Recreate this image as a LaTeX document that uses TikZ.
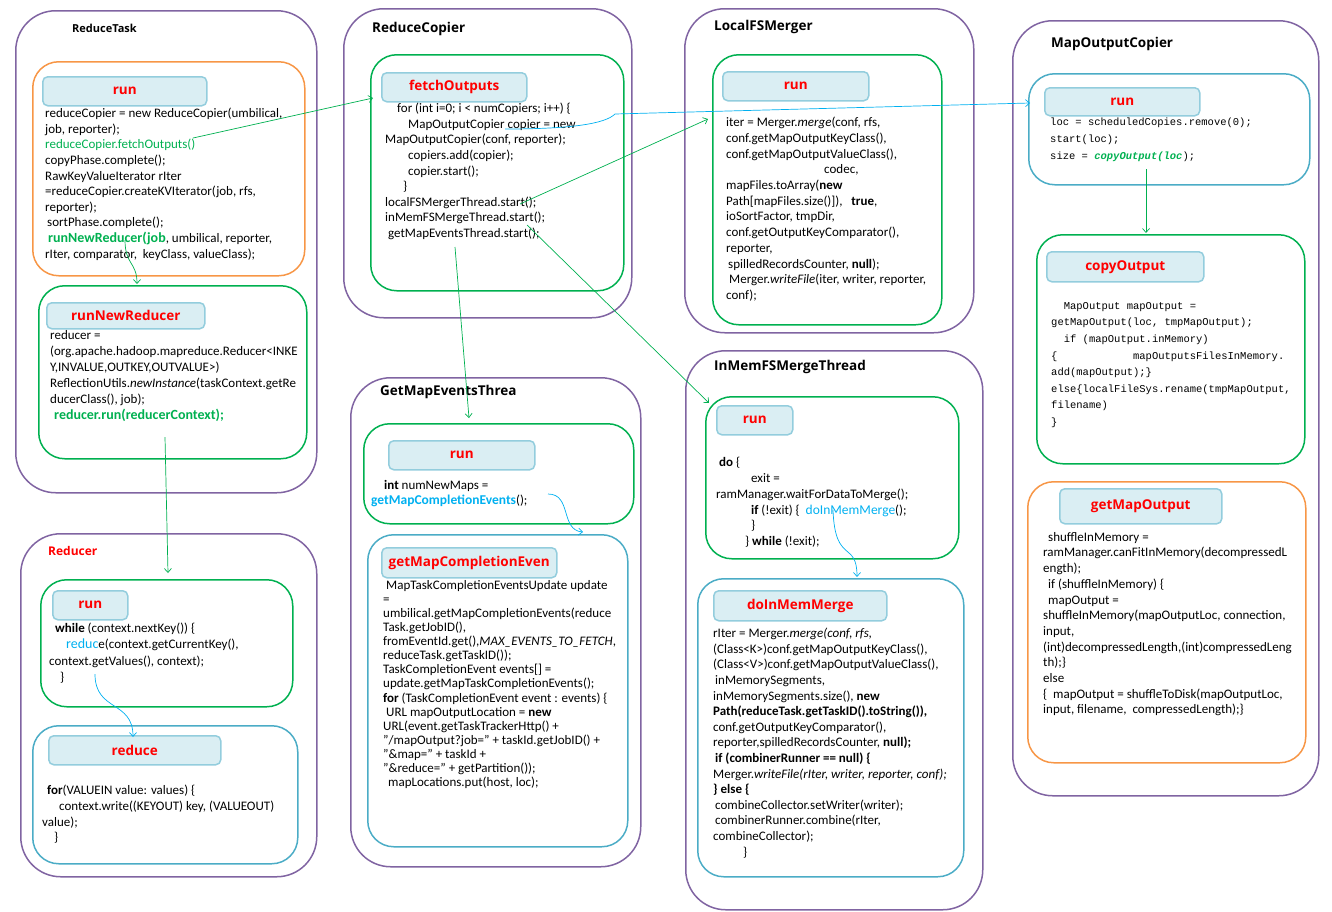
\documentclass[tikz,border=0pt]{standalone}
\usepackage{fontspec}
\setmainfont{Carlito}
\setmonofont{Liberation Mono}
\newfontfamily\headfamily{Open Sans}
\usetikzlibrary{arrows.meta,calc}
\definecolor{purp}{HTML}{8064A2}
\definecolor{orng}{HTML}{F79646}
\definecolor{grn}{HTML}{00B050}
\definecolor{cyanbox}{HTML}{4BACC6}
\definecolor{headfill}{HTML}{DAEEF3}
\definecolor{headline}{HTML}{93CDDD}
\definecolor{skyblue}{HTML}{00B0F0}
\begin{document}
\begin{tikzpicture}[x=1pt, y=-1pt,
	classbox/.style={draw=purp, line width=1.5pt, rounded corners=40pt, anchor=north west, inner sep=0pt},
	methodbox/.style={line width=1.5pt, rounded corners=26pt, anchor=north west, inner sep=0pt},
	headbox/.style={fill=headfill, draw=headline, line width=1.5pt, rounded corners=5pt, anchor=north west, text=red, font=\headfamily\bfseries\fontsize{13.5}{16}\selectfont},
	classname/.style={anchor=west, inner sep=0pt, font=\headfamily\bfseries\fontsize{13.5}{16}\selectfont},
	code/.style={anchor=north west, align=left, inner sep=0pt, font=\fontsize{13}{15.6}\selectfont, execute at begin node=\rule{0pt}{10pt}},
	mono/.style={code, font=\ttfamily\fontsize{10.5}{16.8}\selectfont},
	call/.style={grn, line width=0.7pt, -{Straight Barb[length=4pt,width=7pt]}},
	jump/.style={call, skyblue}]
	\useasboundingbox (0,0) rectangle (1332,911);
	% ReduceTask
	\node[classbox, minimum width=301pt, minimum height=482pt] (tasko) at (15,10) {};
	\node[classname, font=\headfamily\bfseries\fontsize{11}{13}\selectfont] (taskname) at (72,28) {ReduceTask};
	\node[methodbox, draw=orng, minimum width=272pt, minimum height=214pt] (taskrun) at (32,61) {};
	\node[headbox, minimum width=164pt, minimum height=29pt] (taskrunh) at (42,76) {run};
	\node[code] (taskruntxt) at (45,108) {reduceCopier = new ReduceCopier(umbilical,\\ job, reporter);\\ \textcolor{grn}{reduceCopier.fetchOutputs()}\\ copyPhase.complete();\\ RawKeyValueIterator rIter\\ =reduceCopier.createKVIterator(job, rfs,\\ reporter);\\ \hspace*{2pt}sortPhase.complete();\\ \hspace*{3pt}\textcolor{grn}{\bfseries\fontsize{14}{15.6}\selectfont runNewReducer(job}, umbilical, reporter,\\ rIter, comparator,\ \ keyClass, valueClass);};
	\node[methodbox, draw=grn, minimum width=268pt, minimum height=173pt] (newred) at (38,285) {};
	\node[headbox, minimum width=158pt, minimum height=26pt] (newredh) at (46,302) {runNewReducer};
	\node[code, font=\fontsize{13}{16}\selectfont] (newredtxt) at (50,330) {reducer =\\ (org.apache.hadoop.mapreduce.Reducer<INKE\\ Y,INVALUE,OUTKEY,OUTVALUE>)\\ ReflectionUtils.\textit{newInstance}(taskContext.getRe\\ ducerClass(), job);\\ \hspace*{4pt}\textcolor{grn}{\bfseries\fontsize{14}{16}\selectfont reducer.run(reducerContext);}};
	% Reducer
	\node[classbox, minimum width=296pt, minimum height=343pt] (redo) at (20,533) {};
	\node[classname, text=red, font=\headfamily\bfseries\fontsize{12}{14}\selectfont] (redname) at (48,551) {Reducer};
	\node[methodbox, draw=grn, minimum width=252pt, minimum height=127pt] (redrun) at (40,579) {};
	\node[headbox, minimum width=75pt, minimum height=29pt] (redrunh) at (52,590) {run};
	\node[code, font=\fontsize{13}{16.2}\selectfont] (redruntxt) at (49,623) {\hspace*{6pt}\textbf{while} (context.nextKey()) \{\\ \hspace*{17pt}\textcolor{skyblue}{\fontsize{14}{16}\selectfont reduc}e(context.getCurrentKey(),\\ context.getValues(), context);\\ \hspace*{11pt}\}};
	\node[methodbox, draw=cyanbox, minimum width=265pt, minimum height=138pt] (redfn) at (32,725) {};
	\node[headbox, minimum width=172pt, minimum height=29pt] (redfnh) at (48,735) {reduce};
	\node[code, font=\fontsize{13}{15.7}\selectfont] (redfntxt) at (42,785) {\hspace*{5pt}\textbf{for}(VALUEIN value: values) \{\\ \hspace*{17pt}context.write((KEYOUT) key, (VALUEOUT)\\ value);\\ \hspace*{12pt}\}};
	% ReduceCopier
	\node[classbox, minimum width=288pt, minimum height=309pt] (copo) at (343,8) {};
	\node[classname] (coponame) at (372,29) {ReduceCopier};
	\node[methodbox, draw=grn, minimum width=253pt, minimum height=236pt] (fetch) at (370,54) {};
	\node[headbox, minimum width=145pt, minimum height=29pt] (fetchh) at (381,72) {fetchOutputs};
	\node[code] (fetchtxt) at (385,103) {\hspace*{12pt}for (int i=0; i < numCopiers; i++) \{\\ \hspace*{23pt}MapOutputCopier copier = new\\ MapOutputCopier(conf, reporter);\\ \hspace*{23pt}copiers.add(copier);\\ \hspace*{23pt}copier.start();\\ \hspace*{18pt}\}\\ localFSMergerThread.start();\\ inMemFSMergeThread.start();\\ \hspace*{3pt}getMapEventsThread.start();};
	% GetMapEventsThread
	\node[classbox, minimum width=290pt, minimum height=489pt] (evto) at (350,377) {};
	\node[classname] (evtoname) at (380,392) {GetMapEventsThrea};
	\node[methodbox, draw=grn, minimum width=270pt, minimum height=100pt] (evtrun) at (363,423) {};
	\node[headbox, minimum width=146pt, minimum height=29pt] (evtrunh) at (388,440) {run};
	\node[code] (evtruntxt) at (371,480) {\hspace*{13pt}\textbf{int} numNewMaps =\\ \textcolor{skyblue}{\bfseries\fontsize{13.5}{15.6}\selectfont getMapCompletionEvents}();};
	\node[methodbox, draw=cyanbox, minimum width=260pt, minimum height=312pt] (evtget) at (367,534) {};
	\node[headbox, minimum width=175pt, minimum height=30pt] (evtgeth) at (381,547) {getMapCompletionEven};
	\node[code, font=\fontsize{13}{14.1}\selectfont] (evtgettxt) at (383,580) {\hspace*{3pt}MapTaskCompletionEventsUpdate update\\ =\\ umbilical.getMapCompletionEvents(reduce\\ Task.getJobID(),\\ fromEventId.get(),\textit{MAX\_EVENTS\_TO\_FETCH},\\ reduceTask.getTaskID());\\ TaskCompletionEvent events[] =\\ update.getMapTaskCompletionEvents();\\ \textbf{for} (TaskCompletionEvent event : events) \{\\ \hspace*{3pt}URL mapOutputLocation = \textbf{new}\\ URL(event.getTaskTrackerHttp() +\\ "/mapOutput?job=" + taskId.getJobID() +\\ "\&map=" + taskId +\\ "\&reduce=" + getPartition());\\ \hspace*{5pt}mapLocations.put(host, loc);};
	% LocalFSMerger
	\node[classbox, minimum width=289pt, minimum height=324pt] (lfso) at (684,8) {};
	\node[classname] (lfsoname) at (714,27) {LocalFSMerger};
	\node[methodbox, draw=grn, minimum width=229pt, minimum height=270pt] (lfsrun) at (712,54) {};
	\node[headbox, minimum width=146pt, minimum height=29pt] (lfsrunh) at (722,71) {run};
	\node[code, font=\fontsize{13}{15.7}\selectfont] (lfsruntxt) at (726,117) {iter = Merger.\textit{merge}(conf, rfs,\\ conf.getMapOutputKeyClass(),\\ conf.getMapOutputValueClass(),\\ \hspace*{98pt}codec,\\ mapFiles.toArray(\textbf{new}\\ Path[mapFiles.size()]),\ \ \ \textbf{true},\\ ioSortFactor, tmpDir,\\ conf.getOutputKeyComparator(),\\ reporter,\\ \hspace*{2pt}spilledRecordsCounter, \textbf{null});\\ \hspace*{3pt}Merger.\textit{writeFile}(iter, writer, reporter,\\ conf);};
	% InMemFSMergeThread
	\node[classbox, minimum width=297pt, minimum height=559pt] (imfo) at (685,350) {};
	\node[classname] (imfoname) at (714,367) {InMemFSMergeThread};
	\node[methodbox, draw=grn, minimum width=253pt, minimum height=162pt] (imfrun) at (705,396) {};
	\node[headbox, minimum width=76pt, minimum height=29pt] (imfrunh) at (716,405) {run};
	\node[code, font=\fontsize{13}{15.8}\selectfont] (imfruntxt) at (716,457) {\hspace*{3pt}\textbf{do} \{\\ \hspace*{35pt}exit =\\ ramManager.waitForDataToMerge();\\ \hspace*{35pt}\textbf{if} (!exit) \{\ \ \textcolor{skyblue}{\fontsize{13.5}{15.8}\selectfont doInMemMerge}();\\ \hspace*{35pt}\}\\ \hspace*{29pt}\} \textbf{while} (!exit);};
	\node[methodbox, draw=cyanbox, minimum width=266pt, minimum height=298pt] (imfmerge) at (697,578) {};
	\node[headbox, minimum width=173pt, minimum height=30pt] (imfmergeh) at (713,590) {doInMemMerge};
	\node[code] (imfmergetxt) at (713,628) {rIter = Merger.\textit{merge(conf, rfs,}\\ (Class<K>)conf.getMapOutputKeyClass(),\\ (Class<V>)conf.getMapOutputValueClass(),\\ \hspace*{2pt}inMemorySegments,\\ inMemorySegments.size(), \textbf{new}\\ \textbf{Path(reduceTask.getTaskID().toString()),}\\ conf.getOutputKeyComparator(),\\ reporter,spilledRecordsCounter, \textbf{null);}\\ \hspace*{2pt}\textbf{if (combinerRunner == null) \{}\\ Merger.\textit{writeFile(rIter, writer, reporter, conf);}\\ \textbf{\} else \{}\\ \hspace*{2pt}combineCollector.setWriter(writer);\\ \hspace*{2pt}combinerRunner.combine(rIter,\\ combineCollector);\\ \hspace*{30pt}\}};
	% MapOutputCopier
	\node[classbox, minimum width=306pt, minimum height=775pt] (mcpo) at (1012,20) {};
	\node[classname] (mcponame) at (1051,44) {MapOutputCopier};
	\node[methodbox, draw=cyanbox, minimum width=281pt, minimum height=111pt] (mcprun) at (1028,73) {};
	\node[headbox, minimum width=155pt, minimum height=28pt] (mcprunh) at (1044,87) {run};
	\node[mono, font=\ttfamily\fontsize{10.5}{17}\selectfont] (mcpruntxt) at (1050,118) {loc = scheduledCopies.remove(0);\\ start(loc);\\ size = \textcolor{grn}{\bfseries\itshape copyOutput(loc});};
	\node[methodbox, draw=grn, minimum width=268pt, minimum height=229pt] (copyout) at (1036,234) {};
	\node[headbox, minimum width=157pt, minimum height=30pt] (copyouth) at (1046,251) {copyOutput};
	\node[mono, font=\ttfamily\fontsize{10.5}{16.6}\selectfont] (copyouttxt) at (1051,302) {~~MapOutput mapOutput =\\ getMapOutput(loc,~tmpMapOutput);\\ ~~if (mapOutput.inMemory)\\ \{~~~~~~~~~~~~mapOutputsFilesInMemory.\\ add(mapOutput);\}\\ else\{localFileSys.rename(tmpMapOutput,\\ filename)\\ \}};
	\node[methodbox, draw=orng, minimum width=278pt, minimum height=281pt] (getmo) at (1027,481) {};
	\node[headbox, minimum width=162pt, minimum height=35pt] (getmoh) at (1059,488) {getMapOutput};
	\node[code, font=\fontsize{13}{15.7}\selectfont] (getmotxt) at (1043,532) {\hspace*{5pt}shuffleInMemory =\\ ramManager.canFitInMemory(decompressedL\\ ength);\\ \hspace*{5pt}if (shuffleInMemory) \{\\ \hspace*{5pt}mapOutput =\\ shuffleInMemory(mapOutputLoc, connection,\\ input,\\ (int)decompressedLength,(int)compressedLeng\\ th);\}\\ else\\ \{\ \ mapOutput = shuffleToDisk(mapOutputLoc,\\ input, filename,\ \ compressedLength);\}};
	% calls
	\coordinate (fetchcall) at (193,138);
	\coordinate (jobcall) at (125,240);
	\coordinate (runcall) at (165,437);
	\coordinate (reducecall) at (95,674);
	\coordinate (evtstart) at (455,247);
	\coordinate (lfsstart) at (520,204);
	\coordinate (imfstart) at (527,225);
	\coordinate (copierstart) at (505,129);
	\coordinate (evtcall) at (548,494);
	\coordinate (mergecall) at (833,510);
	\coordinate (copycall) at (1146,169);
	\draw[call] (fetchcall) -- ($(fetch.north west)+(3,44)$);
	\draw[call] (jobcall) .. controls (125,265) and (137,262) .. ($(newred.north west)+(99,-1)$);
	\draw[call] (runcall) -- ($(redrun.north west)+(128,-6)$);
	\draw[call] (evtstart) -- ($(evtrun.north west)+(106,-5)$);
	\draw[call] (lfsstart) -- ($(lfsrun.north west)+(-4,65)$);
	\draw[call] (imfstart) -- ($(imfrun.north west)+(4,7)$);
	\draw[call] (copycall) -- ($(copyout.north west)+(110,-1)$);
	\draw[jump] (copierstart) .. controls (570,129) and (605,124) .. (615,114) -- ($(mcprun.north west)+(2,30)$);
	\draw[jump] (reducecall) .. controls (95,712) and (133,700) .. ($(redfn.north west)+(101,12)$);
	\draw[jump] (evtcall) .. controls (572,494) and (560,530) .. ($(evtget.north west)+(216,-2)$);
	\draw[jump] (mergecall) .. controls (835,565) and (857,540) .. ($(imfmerge.north west)+(160,-1)$);
\end{tikzpicture}
\end{document}
